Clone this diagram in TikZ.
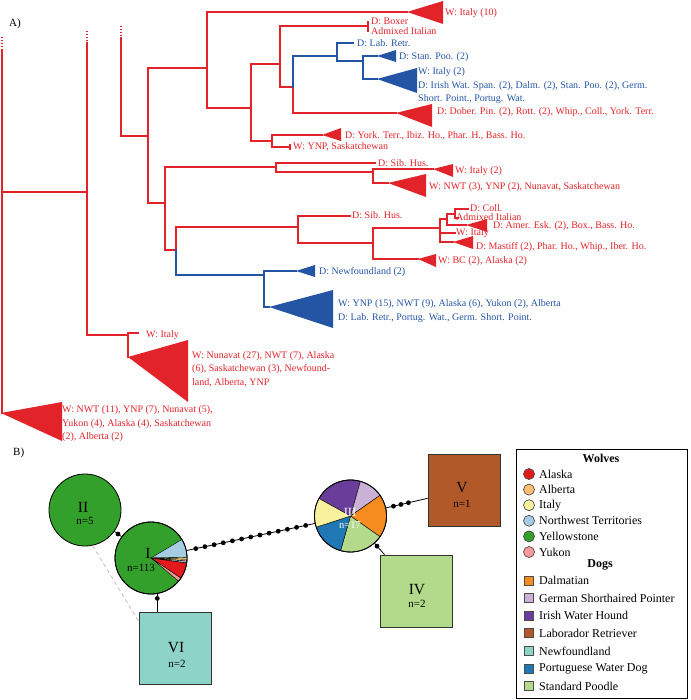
\documentclass[tikz,border=0pt]{standalone}
\usepackage{fontspec}
\setmainfont{Liberation Serif}
\usetikzlibrary{calc}
\definecolor{tred}{RGB}{226,35,42}
\definecolor{tblue}{RGB}{36,85,165}
\definecolor{cAlaska}{HTML}{E31A1C}
\definecolor{cAlberta}{HTML}{FDBF6F}
\definecolor{cItaly}{HTML}{F8F29E}
\definecolor{cNWT}{HTML}{A6CEE3}
\definecolor{cYell}{HTML}{33A02C}
\definecolor{cYukon}{HTML}{FB9A99}
\definecolor{cDalm}{HTML}{F68B1F}
\definecolor{cGSP}{HTML}{CAB2D6}
\definecolor{cIWH}{HTML}{6A3D9A}
\definecolor{cLab}{HTML}{B15928}
\definecolor{cNewf}{HTML}{8DD3C7}
\definecolor{cPWD}{HTML}{1F78B4}
\definecolor{cSP}{HTML}{B2DA8A}
\newcommand{\cladetri}[6]{\fill[#1] (#2,#3) -- (#4,#5) -- (#4,#6) -- cycle;}
\newcommand{\pieslice}[5]{\filldraw[fill=#2, draw=black, line width=0.4pt] (#1.center) -- ++(#3:36pt) arc[start angle=#3, end angle=#4, radius=36pt] -- cycle;}
\begin{document}
\begin{tikzpicture}[x=1pt,y=-1pt,
  br/.style={tred, line width=1.1pt, line cap=rect},
  bb/.style={tblue, line width=1.1pt, line cap=rect},
  brd/.style={tred, line width=1.1pt, dash pattern=on 1.5pt off 1.5pt},
  rtx/.style={text=tred, font=\fontsize{10}{13.5}\selectfont, anchor=west, inner sep=0pt, align=left},
  btx/.style={rtx, text=tblue},
  pienode/.style={circle, draw=black, line width=0.8pt, minimum size=72pt, inner sep=0pt},
  hsq/.style={draw=black!80, line width=0.8pt, minimum size=72pt, inner sep=0pt},
  num/.style={font=\fontsize{15.5}{15.5}\selectfont, inner sep=0pt},
  cnt/.style={font=\fontsize{11}{11}\selectfont, inner sep=0pt},
  link/.style={black, line width=0.8pt},
  netdot/.style={circle, fill=black, inner sep=0pt, minimum size=4.8pt},
  legtx/.style={font=\fontsize{12}{12}\selectfont, anchor=west, inner sep=0pt},
  legtitle/.style={font=\fontsize{12}{12}\selectfont\bfseries, inner sep=0pt},
  legc/.style={circle, draw=black!70, line width=0.7pt, minimum size=11pt, inner sep=0pt},
  legs/.style={draw=black!70, line width=0.7pt, minimum size=9pt, inner sep=0pt},
]
\useasboundingbox[fill=white] (0,0) rectangle (690,700);

% ---------------- Panel A ----------------
\node[font=\fontsize{11}{11}\selectfont, anchor=west, inner sep=0pt] (labA) at (9,24) {A)};

% dashed truncated tops
\draw[brd] (2,37) -- (2,50);
\draw[brd] (87,31) -- (87,43);
\draw[brd] (121,26) -- (121,38);

% red verticals
\foreach \xx/\ya/\yb in {2/50/413, 87/43/335, 121/38/136, 128/333/357, 148/68/203,
  207/12/108, 251/64/141, 280/26/87, 293/87/113, 272/135/147, 165/167/250,
  276/163/172, 373/169/183, 176/227/250, 298/216/243, 373/228/259, 440/219/242,
  447/214/225, 455/209/218, 368/22/31, 290/145/149}
  {\draw[br] (\xx,\ya) -- (\xx,\yb);}
% red horizontals
\foreach \yy/\xa/\xb in {192/2/87, 335/87/128, 136/121/148, 333/128/138, 68/148/207,
  203/148/165, 12/207/407, 108/207/251, 64/251/280, 141/251/272, 26/280/368,
  87/280/293, 113/293/396, 135/272/322, 147/272/290, 167/165/276, 250/165/176,
  163/276/375, 172/276/373, 169/373/433, 183/373/388, 227/176/298, 216/298/350,
  243/298/373, 228/373/440, 259/373/418, 219/440/447, 214/447/455, 209/455/468,
  218/455/458, 225/447/466, 233/440/455, 242/440/453}
  {\draw[br] (\xa,\yy) -- (\xb,\yy);}
% blue verticals
\foreach \xx/\ya/\yb in {293/56/87, 337/43/61, 363/56/79, 176/250/275, 264/271/307}
  {\draw[bb] (\xx,\ya) -- (\xx,\yb);}
% blue horizontals
\foreach \yy/\xa/\xb in {56/293/337, 43/337/353, 61/337/363, 56/363/377, 79/363/377,
  275/176/264, 271/264/296, 307/264/269}
  {\draw[bb] (\xa,\yy) -- (\xb,\yy);}

% collapsed clades
\cladetri{tred}{407}{12}{443}{1}{24}
\cladetri{tred}{396}{113}{432}{104}{127}
\cladetri{tred}{322}{135}{341}{128}{141}
\cladetri{tred}{433}{169}{453}{164}{177}
\cladetri{tred}{388}{183}{426}{174}{197}
\cladetri{tred}{466}{225}{487}{219}{232}
\cladetri{tred}{453}{242}{473}{236}{249}
\cladetri{tred}{418}{259}{436}{254}{267}
\cladetri{tred}{128}{357}{188}{340}{402}
\cladetri{tred}{1}{413}{62}{402}{441}
\cladetri{tblue}{377}{56}{396}{50}{62}
\cladetri{tblue}{377}{79}{417}{68}{93}
\cladetri{tblue}{296}{271}{315}{265}{277}
\cladetri{tblue}{269}{307}{333}{290}{328}

% tree labels
\node[rtx] (t1) at (445,13) {W: Italy (10)};
\node[rtx] (t2a) at (371,21) {D: Boxer};
\node[rtx] (t2b) at (371,31) {Admixed Italian};
\node[btx] (t3) at (357,43) {D: Lab. Retr.};
\node[btx] (t4) at (399,57) {D: Stan. Poo. (2)};
\node[btx] (t5) at (418,86) {W: Italy (2)\\D: Irish Wat. Span. (2), Dalm. (2), Stan. Poo. (2), Germ.\\Short. Point., Portug. Wat.};
\node[rtx] (t6) at (437,112) {D: Dober. Pin. (2), Rott. (2), Whip., Coll., York. Terr.};
\node[rtx] (t7) at (345,136) {D: York. Terr., Ibiz. Ho., Phar. H., Bass. Ho.};
\node[rtx] (t8) at (293,147) {W: YNP, Saskatchewan};
\node[rtx] (t9) at (378,163) {D: Sib. Hus.};
\node[rtx] (t10) at (455,171) {W: Italy (2)};
\node[rtx] (t11) at (429,187) {W: NWT (3), YNP (2), Nunavat, Saskatchewan};
\node[rtx] (t12) at (352,215) {D: Sib. Hus.};
\node[rtx] (t13) at (470,208) {D: Coll.};
\node[rtx] (t14) at (456,217) {Admixed Italian};
\node[rtx] (t15) at (493,226) {D: Amer. Esk. (2), Box., Bass. Ho.};
\node[rtx] (t16) at (456,233) {W: Italy};
\node[rtx] (t17) at (476,247) {D: Mastiff (2), Phar. Ho., Whip., Iber. Ho.};
\node[rtx] (t18) at (438,261) {W: BC (2), Alaska (2)};
\node[btx] (t19) at (319,272) {D: Newfoundland (2)};
\node[btx] (t20) at (338,311) {W: YNP (15), NWT (9), Alaska (6), Yukon (2), Alberta\\D: Lab. Retr., Portug. Wat., Germ. Short. Point.};
\node[rtx] (t21) at (146,335) {W: Italy};
\node[rtx] (t22) at (192,369) {W: Nunavat (27), NWT (7), Alaska\\(6), Saskatchewan (3), Newfound-\\land, Alberta, YNP};
\node[rtx] (t23) at (62,424) {W: NWT (11), YNP (7), Nunavat (5),\\Yukon (4), Alaska (4), Saskatchewan\\(2), Alberta (2)};

% ---------------- Panel B ----------------
\node[font=\fontsize{11}{11}\selectfont, anchor=west, inner sep=0pt] (labB) at (13,453) {B)};

\node[pienode, fill=cYell] (cII) at (85,510) {};
\node[pienode, fill=cYell] (cI) at (151,558) {};
\node[pienode, fill=cItaly] (cIII) at (350.5,516) {};
\node[hsq, fill=cLab] (sV) at (464,490) {};
\node[hsq, fill=cSP] (sIV) at (416.5,591) {};
\node[hsq, fill=cNewf] (sVI) at (175,648.5) {};

% connectors
\draw[gray!50, line width=0.8pt, dash pattern=on 4pt off 3pt] (cII.-78) -- ($(sVI.north west)+(0,9)$);
\draw[link] (cII) -- node[netdot, pos=0.5] (d0) {} (cI);
\draw[link] (cI.-80) -- node[netdot, pos=0.25] (d1) {} (cI.-80 |- sVI.north);
\draw[link] (cI) -- (cIII);
\foreach \k in {1,...,13}{\pgfmathsetmacro\pp{\k/14}\path (cI) -- (cIII) node[netdot, pos=\pp] (dd\k) {};}
\draw[link] (cIII) -- (sV);
\foreach \k/\pp in {1/0.18, 2/0.36, 3/0.54}{\path (cIII) -- (sV) node[netdot, pos=\pp] (dv\k) {};}
\draw[link] (cIII) -- node[netdot, pos=0.25] (d4) {} (sIV);

% pie I
\pieslice{cI}{cNWT}{31}{1}{}
\pieslice{cI}{cItaly}{1}{-2}{}
\pieslice{cI}{cAlberta}{-2}{-5}{}
\pieslice{cI}{cNWT}{-5}{-8}{}
\pieslice{cI}{cAlaska}{-8}{-34}{}
\pieslice{cI}{cYukon}{-34}{-40}{}
\draw[black, line width=0.8pt] (cI.center) circle[radius=36pt];

% pie III
\pieslice{cIII}{cIWH}{151}{74}{}
\pieslice{cIII}{cGSP}{74}{35}{}
\pieslice{cIII}{cDalm}{35}{-35}{}
\pieslice{cIII}{cSP}{-35}{-106}{}
\pieslice{cIII}{cPWD}{-106}{-162}{}
\pieslice{cIII}{cItaly}{-162}{-209}{}
\draw[black, line width=0.8pt] (cIII.center) circle[radius=36pt];

% labels
\node[num] (nII) at (83,507) {II};
\node[cnt] (kII) at (85,521) {n=5};
\node[num] (nI) at (148,553.5) {I};
\node[cnt] (kI) at (141,567.5) {n=113};
\node[num, text=white, font=\fontsize{12.5}{12.5}\selectfont] (nIII) at (350,512) {III};
\node[cnt, text=white, font=\fontsize{10.5}{10.5}\selectfont] (kIII) at (350,525) {n=17};
\node[num] (nIV) at (417,589.5) {IV};
\node[cnt] (kIV) at (417,603.5) {n=2};
\node[num] (nV) at (462,488) {V};
\node[cnt] (kV) at (462,503.5) {n=1};
\node[num] (nVI) at (176,647.5) {VI};
\node[cnt] (kVI) at (177,663.5) {n=2};

% legend
\node[draw=black, line width=0.8pt, minimum width=171pt, minimum height=249pt, inner sep=0pt] (leg) at (601.5,573.5) {};
\node[legtitle] (lw) at (601,458) {Wolves};
\foreach \yy/\cc/\tt in {474/cAlaska/Alaska, 489.6/cAlberta/Alberta, 505.2/cItaly/Italy,
  520.8/cNWT/Northwest Territories, 536.4/cYell/Yellowstone, 552/cYukon/Yukon}
  {\node[legc, fill=\cc] at (529,\yy) {};
   \node[legtx] at (539,\yy) {\tt};}
\node[legtitle] (ld) at (600,565) {Dogs};
\foreach \yy/\cc/\tt in {580.5/cDalm/Dalmatian, 598.1/cGSP/German Shorthaired Pointer,
  615.7/cIWH/Irish Water Hound, 633.3/cLab/Laborador Retriever, 650.9/cNewf/Newfoundland,
  668.5/cPWD/Portuguese Water Dog, 686.1/cSP/Standard Poodle}
  {\node[legs, fill=\cc] at (529,\yy) {};
   \node[legtx] at (539,\yy) {\tt};}
\end{tikzpicture}
\end{document}
